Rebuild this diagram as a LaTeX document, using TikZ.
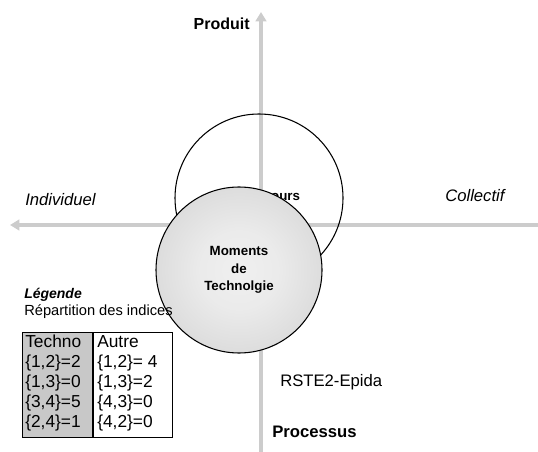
\documentclass[tikz,border=0pt]{standalone}
\usepackage{fontspec}
\setmainfont{Liberation Sans}
\usetikzlibrary{arrows.meta,shadings}
\definecolor{axisgray}{HTML}{CCCCCC}
\definecolor{boxgray}{HTML}{C8C8C8}
\pgfdeclareradialshading{momshade}{\pgfpoint{0bp}{0bp}}{%
  color(0bp)=(white!94!black);
  color(12bp)=(white!92!black);
  color(50bp)=(white!76!black);
  color(100bp)=(white!76!black)}
\begin{document}
\begin{tikzpicture}[x=0.75pt,y=-0.75pt,
  axis/.style={draw=axisgray,line width=3pt,{Triangle[width=8pt,length=7pt]}-{Triangle[width=8pt,length=7pt]}},
  lbl/.style={inner sep=0pt,font=\fontsize{12.5pt}{15pt}\selectfont},
  tcell/.style={draw=black,line width=0.8pt,minimum width=#1,minimum height=78.75pt,inner sep=0pt},
  tlines/.style={inner sep=0pt,anchor=north west,align=left,font=\fontsize{13pt}{15pt}\selectfont},
  bigcirc/.style={circle,draw=black,line width=0.8pt,inner sep=0pt}
]
\useasboundingbox (0,0) rectangle (538,452);
% axes
\coordinate (top) at (261,12);
\coordinate (bot) at (261,462);
\coordinate (left) at (10,225);
\coordinate (right) at (548,225);
\draw[axis] (bot) -- (top);
\draw[axis] (left) -- (right);
% open circle
\node[bigcirc,minimum size=126pt] (disc) at (259,198) {};
\node[inner sep=0pt,font=\fontsize{10pt}{12pt}\selectfont\bfseries] (disctxt) at (271.5,196) {Discours};
% shaded circle
\node[bigcirc,minimum size=124.5pt,shading=momshade,
      align=center,font=\fontsize{10pt}{13pt}\selectfont\bfseries] (moments) at (239,270) {Moments\\de\\Technolgie};
% labels
\node[lbl,font=\fontsize{12pt}{14pt}\selectfont\bfseries,anchor=east] (produit) at (250,24) {Produit};
\node[lbl,font=\fontsize{12.5pt}{14pt}\selectfont\bfseries,anchor=west] (processus) at (272,432) {Processus};
\node[lbl,font=\fontsize{12.5pt}{15pt}\selectfont\itshape,anchor=west] (indiv) at (25,200) {Individuel};
\node[lbl,font=\fontsize{12.5pt}{15pt}\selectfont\itshape,anchor=west] (coll) at (445,196) {Collectif};
\node[lbl,anchor=west] (rste) at (280,382) {RSTE2-Epida};
\node[inner sep=0pt,anchor=west,font=\fontsize{10.5pt}{12pt}\selectfont\bfseries\itshape] (legende) at (24,295) {Légende};
\node[inner sep=0pt,anchor=west,font=\fontsize{11pt}{13pt}\selectfont] (repart) at (24,312) {Répartition des indices};
% table
\node[tcell=52.5pt,fill=boxgray,anchor=north west] (techno) at (22,332) {};
\node[tcell=59pt,fill=white,anchor=north west] (autre) at (93,332) {};
\node[tlines] (technotxt) at (25,335) {Techno\\\{1,2\}=2\\\{1,3\}=0\\\{3,4\}=5\\\{2,4\}=1};
\node[tlines] (autretxt) at (97,335) {Autre\\\{1,2\}= 4\\\{1,3\}=2\\\{4,3\}=0\\\{4,2\}=0};
\end{tikzpicture}
\end{document}
